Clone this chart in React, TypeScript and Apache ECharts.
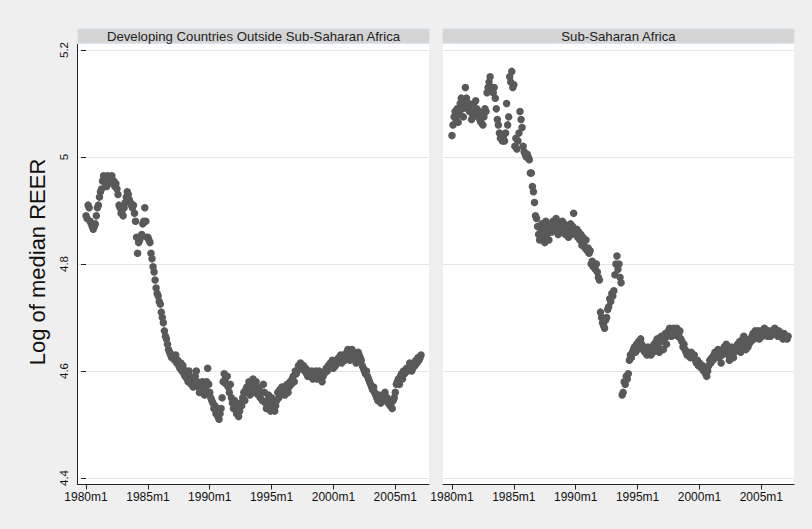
import React, { useEffect, useRef } from "react";
import * as echarts from "echarts";

// ---------- data ----------
const startYear = 1980;
const panelTitles = ["Developing Countries Outside Sub-Saharan Africa", "Sub-Saharan Africa"];
const yTitle = "Log of median REER";
const tickMonths = [0, 60, 120, 180, 240, 300];
const tickLabels = ["1980m1", "1985m1", "1990m1", "1995m1", "2000m1", "2005m1"];

// monthly values from 1980m1
const outsideSSA = [
  4.89, 4.885, 4.91, 4.905, 4.88, 4.875, 4.87, 4.865, 4.87, 4.875, 4.89, 4.905, // 1980
  4.91, 4.925, 4.935, 4.94, 4.955, 4.965, 4.96, 4.95, 4.945, 4.965, 4.96, 4.955, // 1981
  4.96, 4.965, 4.95, 4.955, 4.945, 4.95, 4.94, 4.93, 4.91, 4.905, 4.895, 4.9, // 1982
  4.89, 4.905, 4.915, 4.925, 4.935, 4.93, 4.92, 4.915, 4.91, 4.905, 4.91, 4.895, // 1983
  4.88, 4.85, 4.82, 4.84, 4.845, 4.85, 4.855, 4.875, 4.88, 4.905, 4.88, 4.85, // 1984
  4.85, 4.845, 4.84, 4.82, 4.81, 4.795, 4.785, 4.77, 4.755, 4.745, 4.74, 4.73, // 1985
  4.725, 4.71, 4.7, 4.69, 4.675, 4.665, 4.66, 4.65, 4.64, 4.635, 4.63, 4.625, // 1986
  4.63, 4.625, 4.62, 4.63, 4.615, 4.62, 4.61, 4.605, 4.615, 4.6, 4.61, 4.595, // 1987
  4.59, 4.6, 4.585, 4.58, 4.6, 4.59, 4.575, 4.585, 4.57, 4.58, 4.59, 4.6, // 1988
  4.58, 4.57, 4.56, 4.575, 4.565, 4.58, 4.57, 4.555, 4.565, 4.58, 4.605, 4.575, // 1989
  4.56, 4.55, 4.545, 4.54, 4.53, 4.535, 4.52, 4.53, 4.515, 4.51, 4.52, 4.53, // 1990
  4.55, 4.58, 4.595, 4.585, 4.575, 4.59, 4.57, 4.56, 4.575, 4.55, 4.54, 4.53, // 1991
  4.545, 4.535, 4.52, 4.53, 4.515, 4.525, 4.54, 4.535, 4.55, 4.56, 4.545, 4.565, // 1992
  4.57, 4.56, 4.58, 4.555, 4.565, 4.575, 4.585, 4.56, 4.575, 4.58, 4.57, 4.555, // 1993
  4.565, 4.55, 4.56, 4.545, 4.575, 4.56, 4.54, 4.53, 4.545, 4.555, 4.535, 4.525, // 1994
  4.55, 4.54, 4.53, 4.525, 4.535, 4.545, 4.56, 4.55, 4.565, 4.555, 4.57, 4.56, // 1995
  4.57, 4.555, 4.565, 4.575, 4.56, 4.57, 4.58, 4.575, 4.585, 4.59, 4.58, 4.6, // 1996
  4.595, 4.6, 4.61, 4.605, 4.615, 4.61, 4.605, 4.61, 4.6, 4.605, 4.595, 4.59, // 1997
  4.6, 4.595, 4.59, 4.6, 4.585, 4.59, 4.595, 4.6, 4.585, 4.59, 4.6, 4.595, // 1998
  4.59, 4.58, 4.59, 4.595, 4.6, 4.605, 4.6, 4.61, 4.605, 4.615, 4.61, 4.62, // 1999
  4.605, 4.615, 4.61, 4.62, 4.615, 4.625, 4.62, 4.63, 4.615, 4.625, 4.63, 4.62, // 2000
  4.625, 4.635, 4.64, 4.63, 4.62, 4.635, 4.64, 4.635, 4.63, 4.625, 4.615, 4.62, // 2001
  4.635, 4.63, 4.625, 4.62, 4.61, 4.605, 4.6, 4.595, 4.6, 4.59, 4.585, 4.58, // 2002
  4.575, 4.57, 4.565, 4.57, 4.56, 4.555, 4.55, 4.545, 4.555, 4.55, 4.54, 4.545, // 2003
  4.555, 4.55, 4.56, 4.545, 4.55, 4.54, 4.545, 4.535, 4.54, 4.53, 4.545, 4.55, // 2004
  4.56, 4.575, 4.58, 4.585, 4.575, 4.59, 4.595, 4.585, 4.6, 4.595, 4.6, 4.605, // 2005
  4.6, 4.605, 4.615, 4.61, 4.6, 4.605, 4.615, 4.61, 4.62, 4.615, 4.625, 4.62, // 2006
  4.625, 4.63, // 2007
];

const subSaharan = [
  5.04, 5.06, 5.075, 5.085, 5.07, 5.09, 5.065, 5.08, 5.1, 5.11, 5.09, 5.075, // 1980
  5.1, 5.13, 5.11, 5.09, 5.1, 5.085, 5.095, 5.07, 5.08, 5.1, 5.09, 5.105, // 1981
  5.09, 5.075, 5.085, 5.07, 5.065, 5.08, 5.06, 5.075, 5.09, 5.085, 5.12, 5.13, // 1982
  5.14, 5.15, 5.13, 5.125, 5.12, 5.13, 5.11, 5.09, 5.07, 5.06, 5.045, 5.035, // 1983
  5.035, 5.03, 5.04, 5.03, 5.045, 5.1, 5.06, 5.075, 5.15, 5.14, 5.16, 5.13, // 1984
  5.135, 5.02, 5.035, 5.015, 5.03, 5.045, 5.085, 5.07, 5.055, 5.02, 5.01, 5.005, // 1985
  5.0, 5.005, 5.0, 4.995, 4.97, 4.97, 4.945, 4.935, 4.915, 4.89, 4.885, 4.87, // 1986
  4.855, 4.845, 4.86, 4.875, 4.85, 4.865, 4.84, 4.88, 4.855, 4.87, 4.845, 4.86, // 1987
  4.875, 4.86, 4.88, 4.87, 4.865, 4.885, 4.87, 4.855, 4.875, 4.86, 4.87, 4.88, // 1988
  4.865, 4.875, 4.855, 4.87, 4.86, 4.85, 4.865, 4.875, 4.855, 4.87, 4.895, 4.86, // 1989
  4.855, 4.865, 4.85, 4.86, 4.845, 4.855, 4.835, 4.85, 4.84, 4.83, 4.845, 4.825, // 1990
  4.83, 4.82, 4.825, 4.8, 4.805, 4.795, 4.8, 4.79, 4.8, 4.785, 4.775, 4.77, // 1991
  4.71, 4.7, 4.69, 4.685, 4.68, 4.695, 4.7, 4.715, 4.72, 4.735, 4.73, 4.745, // 1992
  4.74, 4.75, 4.78, 4.8, 4.815, 4.79, 4.8, 4.775, 4.765, 4.555, 4.56, 4.58, // 1993
  4.575, 4.59, 4.585, 4.595, 4.62, 4.63, 4.625, 4.635, 4.64, 4.645, 4.635, 4.65, // 1994
  4.64, 4.655, 4.645, 4.66, 4.65, 4.64, 4.645, 4.635, 4.64, 4.63, 4.645, 4.635, // 1995
  4.64, 4.63, 4.645, 4.635, 4.65, 4.64, 4.655, 4.66, 4.645, 4.635, 4.64, 4.665, // 1996
  4.655, 4.64, 4.66, 4.67, 4.65, 4.665, 4.675, 4.68, 4.67, 4.665, 4.675, 4.68, // 1997
  4.675, 4.67, 4.68, 4.665, 4.67, 4.675, 4.66, 4.655, 4.645, 4.65, 4.64, 4.635, // 1998
  4.63, 4.635, 4.63, 4.625, 4.635, 4.63, 4.625, 4.63, 4.62, 4.615, 4.62, 4.61, // 1999
  4.615, 4.61, 4.605, 4.61, 4.6, 4.605, 4.595, 4.59, 4.6, 4.61, 4.62, 4.615, // 2000
  4.625, 4.62, 4.63, 4.635, 4.625, 4.63, 4.64, 4.625, 4.635, 4.615, 4.63, 4.64, // 2001
  4.645, 4.635, 4.65, 4.64, 4.63, 4.62, 4.63, 4.645, 4.64, 4.625, 4.635, 4.645, // 2002
  4.64, 4.65, 4.645, 4.655, 4.635, 4.645, 4.66, 4.665, 4.65, 4.64, 4.655, 4.645, // 2003
  4.65, 4.66, 4.655, 4.665, 4.67, 4.66, 4.675, 4.665, 4.67, 4.675, 4.66, 4.67, // 2004
  4.675, 4.665, 4.67, 4.68, 4.675, 4.67, 4.665, 4.675, 4.67, 4.665, 4.675, 4.67, // 2005
  4.67, 4.68, 4.675, 4.67, 4.665, 4.675, 4.67, 4.665, 4.67, 4.66, 4.67, 4.665, // 2006
  4.665, 4.66, 4.665, // 2007
];

// ---------- layout ----------
const W = 812;
const H = 529;
const FONT = "'Liberation Sans', Arial, sans-serif";
const panels = [
  { left: 78, width: 351, xMin: -7.8, xMax: 332.7 },
  { left: 443, width: 351, xMin: -8.7, xMax: 331.7 },
];
const plotTop = 44;
const plotBottom = 484;
const gridTop = 50;
const gridBottomY = 478;

export default function App() {
  const ref = useRef<HTMLDivElement>(null);

  useEffect(() => {
    if (!ref.current) return;
    const chart = echarts.init(ref.current, undefined, { renderer: "svg" });

    const toPoints = (arr: number[]) => arr.map((v, i) => [i, v]);
    const seriesData = [outsideSSA, subSaharan];

    const graphics: any[] = [];
    panels.forEach((p, i) => {
      graphics.push({
        type: "rect",
        z: -10,
        shape: { x: p.left, y: plotTop, width: p.width, height: plotBottom - plotTop },
        style: { fill: "#ffffff" },
      });
      graphics.push({
        type: "rect",
        z: -10,
        shape: { x: p.left, y: 29, width: p.width, height: 14 },
        style: { fill: "#d4d4d4", stroke: "#cfdce8", lineWidth: 1 },
      });
      graphics.push({
        type: "text",
        z: 10,
        x: p.left + p.width / 2,
        y: 36.5,
        style: {
          text: panelTitles[i],
          fill: "#222222",
          font: `13.2px ${FONT}`,
          align: "center",
          verticalAlign: "middle",
        },
      });
    });
    graphics.push({
      type: "line",
      z: 10,
      shape: { x1: 77.5, y1: 44, x2: 77.5, y2: 485 },
      style: { stroke: "#222222", lineWidth: 1 },
    });
    graphics.push({
      type: "text",
      z: 10,
      x: 37,
      y: 262,
      rotation: Math.PI / 2,
      style: {
        text: yTitle,
        fill: "#111111",
        font: `22px ${FONT}`,
        align: "center",
        verticalAlign: "middle",
      },
    });

    const option: any = {
      animation: false,
      backgroundColor: "#efefef",
      graphic: { elements: graphics },
      grid: panels.map((p) => ({
        left: p.left,
        width: p.width,
        top: gridTop,
        height: gridBottomY - gridTop,
        containLabel: false,
      })),
      xAxis: panels.map((p, i) => ({
        type: "value",
        gridIndex: i,
        min: p.xMin,
        max: p.xMax,
        offset: 6.5,
        axisLine: { show: true, lineStyle: { color: "#222222", width: 1 } },
        axisTick: {
          show: true,
          length: 5,
          customValues: tickMonths,
          lineStyle: { color: "#222222" },
        },
        axisLabel: {
          customValues: tickMonths,
          margin: 6,
          color: "#111111",
          fontFamily: FONT,
          fontSize: 12,
          formatter: (v: number) => {
            const k = tickMonths.indexOf(Math.round(v));
            return k >= 0 ? tickLabels[k] : "";
          },
        },
        splitLine: { show: false },
      })),
      yAxis: panels.map((p, i) => ({
        type: "value",
        gridIndex: i,
        min: 4.4,
        max: 5.2,
        interval: 0.2,
        axisLine: { show: false },
        axisTick: {
          show: i === 0,
          length: 5,
          lineStyle: { color: "#222222" },
        },
        axisLabel: {
          show: i === 0,
          rotate: 90,
          margin: 8,
          color: "#111111",
          fontFamily: FONT,
          fontSize: 11.5,
          formatter: (v: number) => String(Math.round(v * 10) / 10),
        },
        splitLine: { show: true, lineStyle: { color: "#e6e6e6", width: 1 } },
      })),
      series: seriesData.map((d, i) => ({
        type: "scatter",
        xAxisIndex: i,
        yAxisIndex: i,
        data: toPoints(d),
        symbol: "circle",
        symbolSize: 7.5,
        itemStyle: { color: "#595959", opacity: 1 },
        emphasis: { disabled: true },
        silent: true,
      })),
    };

    chart.setOption(option);
    return () => chart.dispose();
  }, []);

  return (
    <div
      ref={ref}
      style={{ position: "fixed", left: 0, top: 0, width: W, height: H, background: "#efefef" }}
    />
  );
}
